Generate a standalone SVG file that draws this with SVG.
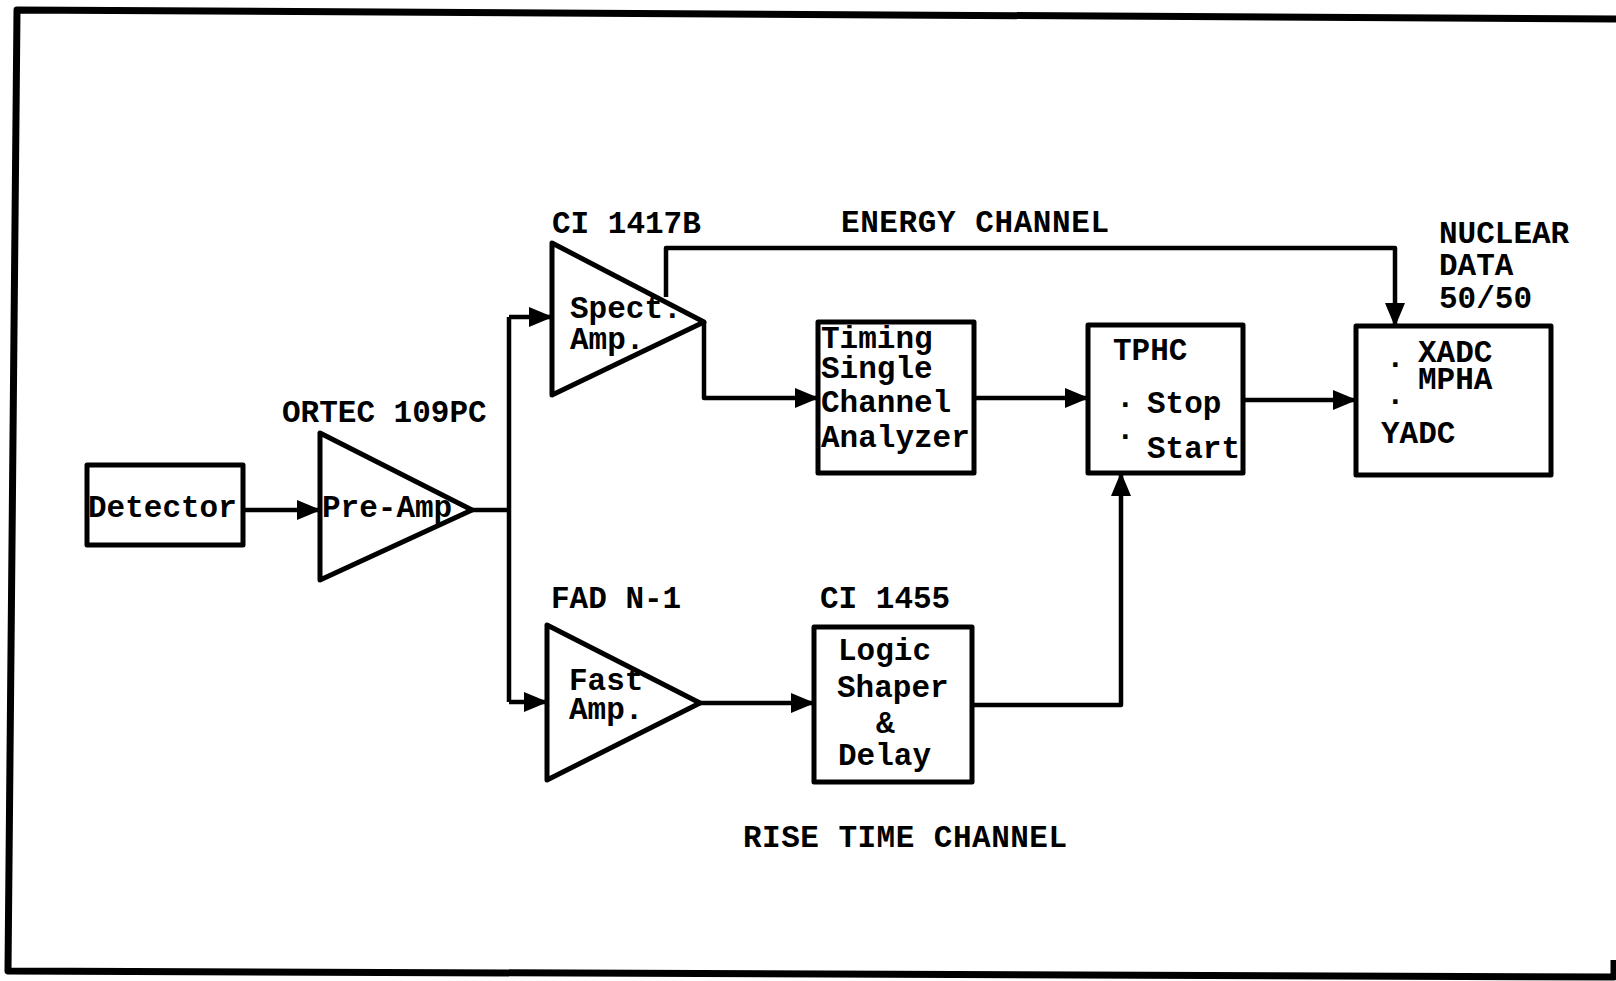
<svg xmlns="http://www.w3.org/2000/svg" width="1616" height="981" viewBox="0 0 1616 981">
<style>
.t{font-family:"Liberation Mono","DejaVu Sans Mono",monospace;font-size:31px;font-weight:bold;fill:#000}
.b{fill:none;stroke:#000;stroke-width:5;stroke-linejoin:round}
.w{fill:none;stroke:#000;stroke-width:4.5;stroke-linejoin:round}
</style>
<defs>
<marker id="ah" markerUnits="userSpaceOnUse" markerWidth="26" markerHeight="22" refX="23" refY="10" orient="auto">
<path d="M0,0 L24,10 L0,20 Z" fill="#000"/>
</marker>
</defs>
<rect width="1616" height="981" fill="#fff"/>
<g id="frame">
<path d="M1616,19 L17,10 L8,971 L1614,977 L1614,960" fill="none" stroke="#000" stroke-width="7" stroke-linejoin="round"/>
</g>
<g id="connectors">
<path class="w" d="M243,510 H320" marker-end="url(#ah)"/>
<path class="w" d="M472,510 H509"/>
<path class="w" d="M509,317 V702"/>
<path class="w" d="M509,317 H552" marker-end="url(#ah)"/>
<path class="w" d="M509,702 H547" marker-end="url(#ah)"/>
<path class="w" d="M666,297 V248 H1395 V326" marker-end="url(#ah)"/>
<path class="w" d="M704,322 V398 H818" marker-end="url(#ah)"/>
<path class="w" d="M974,398 H1088" marker-end="url(#ah)"/>
<path class="w" d="M1243,400 H1356" marker-end="url(#ah)"/>
<path class="w" d="M700,703 H814" marker-end="url(#ah)"/>
<path class="w" d="M972,705 H1121 V473" marker-end="url(#ah)"/>
</g>
<g id="detector">
<rect class="b" x="87" y="465" width="156" height="80"/>
<text class="t" x="88" y="517">Detector</text>
</g>
<g id="preamp">
<path class="b" d="M320,433 L320,580 L472,510 Z"/>
<text class="t" x="282" y="422">ORTEC 109PC</text>
<text class="t" x="322" y="517">Pre-Amp</text>
</g>
<g id="spectamp">
<path class="b" d="M552,243 L552,395 L704,322 Z"/>
<text class="t" x="552" y="233">CI 1417B</text>
<text class="t" x="570" y="318">Spect.</text>
<text class="t" x="570" y="349">Amp.</text>
</g>
<g id="energy-label">
<text class="t" x="841" y="232" textLength="268" lengthAdjust="spacing">ENERGY CHANNEL</text>
</g>
<g id="sca">
<rect class="b" x="818" y="322" width="156" height="151"/>
<text class="t" x="821" y="348">Timing</text>
<text class="t" x="821" y="378">Single</text>
<text class="t" x="821" y="412">Channel</text>
<text class="t" x="821" y="447">Analyzer</text>
</g>
<g id="tphc">
<rect class="b" x="1088" y="325" width="155" height="148"/>
<text class="t" x="1113" y="360">TPHC</text>
<text class="t"><tspan x="1116" y="413">·</tspan><tspan x="1147" y="413">Stop</tspan></text>
<text class="t"><tspan x="1116" y="445">·</tspan><tspan x="1147" y="458">Start</tspan></text>
</g>
<g id="nucleardata">
<rect class="b" x="1356" y="326" width="195" height="149"/>
<text class="t" x="1439" y="243">NUCLEAR</text>
<text class="t" x="1439" y="275">DATA</text>
<text class="t" x="1439" y="308">50/50</text>
<text class="t" x="1418" y="362">XADC</text>
<text class="t" x="1418" y="389">MPHA</text>
<text class="t" x="1386" y="373">·</text>
<text class="t" x="1386" y="410">·</text>
<text class="t" x="1381" y="443">YADC</text>
</g>
<g id="fastamp">
<path class="b" d="M547,625 L547,780 L700,703 Z"/>
<text class="t" x="551" y="608">FAD N-1</text>
<text class="t" x="569" y="690">Fast</text>
<text class="t" x="569" y="719">Amp.</text>
</g>
<g id="logic">
<rect class="b" x="814" y="627" width="158" height="155"/>
<text class="t" x="820" y="608">CI 1455</text>
<text class="t" x="838" y="660">Logic</text>
<text class="t" x="837" y="697">Shaper</text>
<text class="t" x="876" y="733">&amp;</text>
<text class="t" x="838" y="765">Delay</text>
</g>
<g id="risetime-label">
<text class="t" x="743" y="847" textLength="324" lengthAdjust="spacing">RISE TIME CHANNEL</text>
</g>
</svg>
